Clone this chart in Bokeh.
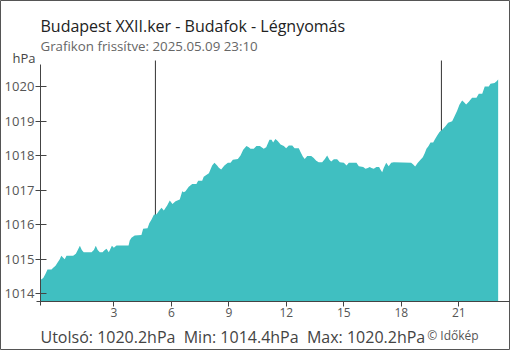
from bokeh.plotting import figure
from bokeh.models import FixedTicker, Label, Range1d
from bokeh.embed import file_html
from bokeh.resources import INLINE

# ---- data (hour of day, pressure hPa) ----
hours = [-0.83, -0.68, -0.56, -0.46, -0.25, -0.16, -0.04, 0.06, 0.18, 0.26, 0.36, 0.44, 0.53, 0.88,
         1.02, 1.12, 1.23, 1.33, 1.43, 1.84, 1.96, 2.06, 2.16, 2.27, 2.41, 2.53, 2.62, 2.74, 2.90,
         3.0, 3.14, 3.77, 3.83, 3.92, 4.09, 4.44, 4.53, 4.76, 4.85, 4.97, 5.09, 5.23, 5.37, 5.49,
         5.61, 5.79, 5.92, 6.06, 6.22, 6.44, 6.57, 6.65, 6.74, 6.91, 7.09, 7.31, 7.40, 7.61, 7.69,
         7.96, 8.13, 8.25, 8.39, 8.48, 8.60, 8.77, 8.95, 9.09, 9.21, 9.47, 9.61, 9.75, 9.92, 10.04,
         10.13, 10.30, 10.44, 10.62, 10.82, 10.95, 11.12, 11.23, 11.31, 11.43, 11.55, 11.70, 11.87,
         11.99, 12.13, 12.31, 12.43, 12.65, 12.74, 12.86, 12.96, 13.09, 13.30, 13.43, 13.56, 13.69,
         13.87, 14.01, 14.13, 14.25, 14.34, 14.48, 14.65, 14.79, 15.0, 15.14, 15.26, 15.66, 15.78,
         16.01, 16.13, 16.25, 16.35, 16.44, 16.56, 16.70, 16.84, 16.91, 17.0, 17.08, 17.21, 17.34,
         17.47, 17.61, 18.51, 18.62, 18.72, 18.86, 19.0, 19.12, 19.22, 19.31, 19.42, 19.52, 19.66,
         19.76, 19.87, 19.99, 20.13, 20.30, 20.44, 20.65, 20.77, 20.91, 21.03, 21.17, 21.26, 21.38,
         21.52, 21.69, 21.92, 22.04, 22.22, 22.35, 22.56, 22.65, 22.86, 22.97, 23.05]
pressure = [1014.4, 1014.46, 1014.58, 1014.7, 1014.7, 1014.75, 1014.81, 1014.9, 1015.0, 1015.1, 1015.04,
            1015.0, 1015.1, 1015.1, 1015.16, 1015.27, 1015.39, 1015.27, 1015.2, 1015.2, 1015.27, 1015.39,
            1015.27, 1015.2, 1015.2, 1015.27, 1015.3, 1015.2, 1015.39, 1015.33, 1015.4, 1015.4, 1015.54,
            1015.62, 1015.69, 1015.7, 1015.88, 1015.9, 1016.04, 1016.15, 1016.29, 1016.3, 1016.41,
            1016.49, 1016.41, 1016.56, 1016.7, 1016.6, 1016.68, 1016.73, 1016.97, 1016.94, 1016.97,
            1017.1, 1017.18, 1017.18, 1017.27, 1017.27, 1017.39, 1017.49, 1017.71, 1017.79, 1017.71,
            1017.65, 1017.6, 1017.71, 1017.79, 1017.79, 1017.88, 1017.9, 1018.0, 1018.17, 1018.28,
            1018.24, 1018.2, 1018.2, 1018.28, 1018.28, 1018.2, 1018.24, 1018.46, 1018.46, 1018.38,
            1018.48, 1018.42, 1018.32, 1018.28, 1018.21, 1018.29, 1018.29, 1018.21, 1018.21, 1018.1,
            1017.97, 1017.9, 1017.99, 1017.99, 1017.93, 1017.85, 1017.81, 1017.81, 1017.9, 1018.0,
            1017.88, 1017.83, 1017.89, 1017.89, 1017.81, 1017.79, 1017.71, 1017.79, 1017.79, 1017.69,
            1017.67, 1017.62, 1017.64, 1017.67, 1017.64, 1017.62, 1017.67, 1017.67, 1017.6, 1017.52,
            1017.64, 1017.79, 1017.69, 1017.79, 1017.81, 1017.79, 1017.74, 1017.68, 1017.79, 1017.88,
            1017.95, 1018.07, 1018.2, 1018.28, 1018.38, 1018.38, 1018.48, 1018.58, 1018.68, 1018.75,
            1018.85, 1018.95, 1018.99, 1019.13, 1019.3, 1019.47, 1019.59, 1019.55, 1019.48, 1019.56,
            1019.67, 1019.67, 1019.79, 1019.79, 1020.0, 1020.0, 1020.08, 1020.1, 1020.15, 1020.2]
x_ticks = [3, 6, 9, 12, 15, 18, 21]
y_ticks = [1014, 1015, 1016, 1017, 1018, 1019, 1020]
sun_events = [5.17, 20.09]          # sunrise, sunset (hours)
window_start = -0.833               # 23:10 previous day
title_text = "Budapest XXII.ker - Budafok - Légnyomás"
subtitle_text = "Grafikon frissítve: 2025.05.09 23:10"
unit_text = "hPa"
NB = "\u00a0"
stats_text = ("Utolsó: 1020.2hPa" + NB + NB + "Min: 1014.4hPa" + NB + NB + "Max: 1020.2hPa")
credit_text = "© Időkép"

FONT = "Open Sans"
W, H = 510, 350
# plot scale: the frame fills the canvas, axes are placed inside it
x_lo, x_hi = -2.911, 23.694
y_lo, y_hi = 1012.359, 1022.487
base_level = 1013.79     # x-axis level
axis_top = 1020.64       # top of the y-axis line
sun_top = 1020.75        # top of sunrise / sunset lines

p = figure(width=W, height=H, output_backend="svg", toolbar_location=None,
           x_range=Range1d(x_lo, x_hi), y_range=Range1d(y_lo, y_hi),
           min_border_left=0, min_border_right=0, min_border_top=0, min_border_bottom=0)
p.outline_line_color = "#555555"
p.outline_line_width = 1
p.xgrid.visible = False
p.ygrid.visible = False
p.background_fill_color = "white"
p.border_fill_color = "white"

p.segment(x0=sun_events, y0=[base_level] * 2, x1=sun_events, y1=[sun_top] * 2,
          line_color="#333333", line_width=1)
p.varea(x=hours, y1=[base_level] * len(hours), y2=pressure, fill_color="#40BFC1")

ax = p.xaxis[0]
ax.fixed_location = base_level
ax.bounds = (-1.03, x_hi)
ax.ticker = FixedTicker(ticks=x_ticks)
ax.axis_line_color = "#444444"
ax.major_tick_line_color = "#444444"
ax.major_tick_in = 0
ax.major_tick_out = 5
ax.minor_tick_line_color = None
ax.major_label_text_font = FONT
ax.major_label_text_font_size = "12px"
ax.major_label_text_color = "#555555"
ax.major_label_standoff = 2

ay = p.yaxis[0]
ay.fixed_location = window_start
ay.bounds = (1013.66, axis_top)
ay.ticker = FixedTicker(ticks=y_ticks)
ay.axis_line_color = "#444444"
ay.major_tick_line_color = "#444444"
ay.major_tick_in = 6
ay.major_tick_out = 5
ay.minor_tick_line_color = None
ay.major_label_text_font = FONT
ay.major_label_text_font_size = "13px"
ay.major_label_text_color = "#555555"
ay.major_label_standoff = 1

def lab(text, x, y, size, color, align="left"):
    p.add_layout(Label(x=x, y=y, x_units="screen", y_units="screen", text=text,
                       text_font=FONT, text_font_size=size, text_color=color,
                       text_align=align, text_baseline="alphabetic"))

lab(title_text, 40, 325, "16px", "#222222")
lab(subtitle_text, 40, 305, "13.3px", "#666666")
lab(unit_text, 35, 292.7, "13px", "#444444", align="right")
lab(stats_text, 40, 13.7, "16px", "#444444")
lab(credit_text, 426.7, 15, "12px", "#555555")

open("out.html", "w").write(file_html(p, INLINE))
